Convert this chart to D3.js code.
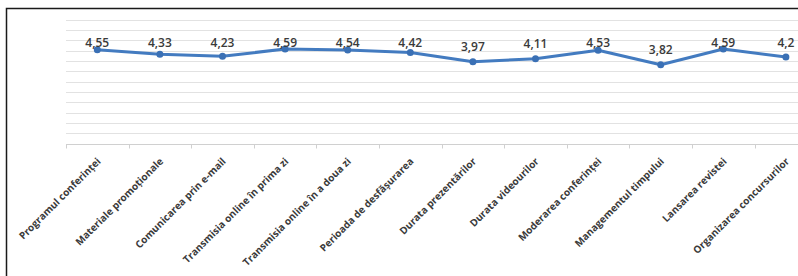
<!DOCTYPE html>
<html>
<head>
<meta charset="utf-8">
<script src="https://cdn.jsdelivr.net/npm/d3@7"></script>
<style>
  html, body { margin: 0; padding: 0; background: #fff; }
  svg { display: block; }
</style>
</head>
<body>
<div id="chart"></div>
<script>
const categories = [
  "Programul conferinței",
  "Materiale promoționale",
  "Comunicarea prin e-mail",
  "Transmisia online în prima zi",
  "Transmisia online în a doua zi",
  "Perioada de desfășurarea",
  "Durata prezentărilor",
  "Durata videourilor",
  "Moderarea conferinței",
  "Managementul timpului",
  "Lansarea revistei",
  "Organizarea concursurilor"
];
const values = [4.55, 4.33, 4.23, 4.59, 4.54, 4.42, 3.97, 4.11, 4.53, 3.82, 4.59, 4.2];
const yTicks = [0, 0.5, 1, 1.5, 2, 2.5, 3, 3.5, 4, 4.5, 5, 5.5, 6];

const W = 798, H = 276;
const svg = d3.select("#chart").append("svg").attr("width", W).attr("height", H);
svg.append("rect").attr("width", W).attr("height", H).attr("fill", "#fff");

const x = d3.scaleBand().domain(categories).range([66, 66 + 12 * 62.6]);
const y = d3.scaleLinear().domain([0, 6]).range([143.5, 19.9]);

// frame
svg.append("path").attr("d", "M6.5,276 V8.5 H798").attr("fill", "none")
  .attr("stroke", "#1a1a1a").attr("stroke-width", 1.5);

// gridlines
svg.append("g").selectAll("line").data(yTicks).join("line")
  .attr("x1", 66).attr("x2", W + 20)
  .attr("y1", d => Math.round(y(d)) + 0.5).attr("y2", d => Math.round(y(d)) + 0.5)
  .attr("stroke", d => d === 0 ? "#d0d0d0" : "#e2e2e2").attr("stroke-width", 1);

// x axis
const xAxis = d3.axisBottom(x).tickSize(0).tickFormat("");
const gx = svg.append("g").attr("transform", `translate(0,${Math.round(y(0)) + 0.5})`).call(xAxis);
gx.select(".domain").remove();
// tick marks at band boundaries
svg.append("g").selectAll("line").data(categories).join("line")
  .attr("x1", d => Math.round(x(d)) + 0.5).attr("x2", d => Math.round(x(d)) + 0.5)
  .attr("y1", Math.round(y(0)) + 0.5).attr("y2", Math.round(y(0)) + 4.5)
  .attr("stroke", "#d0d0d0");

// category labels
svg.append("g").selectAll("text").data(categories).join("text")
  .attr("transform", d => `translate(${x(d) + x.bandwidth() / 2 + 4},${162}) rotate(-45)`)
  .attr("text-anchor", "end")
  .attr("font-family", "'Open Sans', sans-serif")
  .attr("font-weight", 700)
  .attr("font-size", 10)
  .attr("fill", "#3a3a3a")
  .text(d => d);

// line
const line = d3.line()
  .x((d, i) => x(categories[i]) + x.bandwidth() / 2)
  .y(d => y(d));
svg.append("path").datum(values).attr("d", line)
  .attr("fill", "none").attr("stroke", "#437bc0").attr("stroke-width", 3)
  .attr("stroke-linejoin", "round");

svg.append("g").selectAll("circle").data(values).join("circle")
  .attr("cx", (d, i) => x(categories[i]) + x.bandwidth() / 2)
  .attr("cy", d => y(d))
  .attr("r", 3.5)
  .attr("fill", "#3a70b5");

// data labels
svg.append("g").selectAll("text").data(values).join("text")
  .attr("x", (d, i) => x(categories[i]) + x.bandwidth() / 2)
  .attr("y", d => Math.max(y(d) - 14.7, 42.7))
  .attr("dy", "0.35em")
  .attr("text-anchor", "middle")
  .attr("font-family", "'Open Sans', sans-serif")
  .attr("font-weight", 600)
  .attr("font-size", 12)
  .attr("fill", "#3a3a3a")
  .text(d => String(d).replace(".", ","));
</script>
</body>
</html>
